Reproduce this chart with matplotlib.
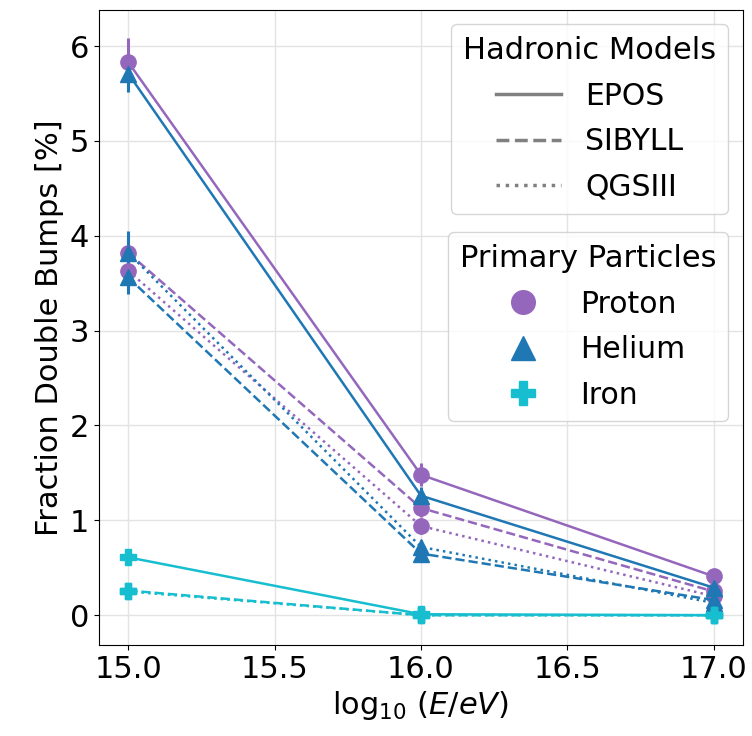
import matplotlib
matplotlib.use("Agg")
import matplotlib.pyplot as plt
from matplotlib.lines import Line2D

energies = [15.0, 16.0, 17.0]

# fraction of double bumps [%], per primary and hadronic model
proton_epos = [5.83, 1.48, 0.41]
proton_sibyll = [3.82, 1.13, 0.25]
proton_qgs = [3.63, 0.94, 0.20]
helium_epos = [5.71, 1.26, 0.29]
helium_sibyll = [3.56, 0.65, 0.16]
helium_qgs = [3.82, 0.72, 0.13]
iron_epos = [0.61, 0.01, 0.00]
iron_sibyll = [0.26, 0.00, 0.00]
iron_qgs = [0.25, 0.00, 0.00]

proton_epos_err = [0.25, 0.12, 0.05]
proton_sibyll_err = [0.20, 0.09, 0.04]
proton_qgs_err = [0.19, 0.08, 0.04]
helium_epos_err = [0.19, 0.09, 0.04]
helium_sibyll_err = [0.17, 0.06, 0.03]
helium_qgs_err = [0.23, 0.07, 0.03]
iron_epos_err = [0.06, 0.01, 0.01]
iron_sibyll_err = [0.04, 0.01, 0.01]
iron_qgs_err = [0.04, 0.01, 0.01]

models = ["EPOS", "SIBYLL", "QGSIII"]
styles = ["-", "--", ":"]
primaries = ["Proton", "Helium", "Iron"]
colors = ["#9467bd", "#1f77b4", "#17becf"]
markers = ["o", "^", "P"]

data = {
    "Proton": [(proton_epos, proton_epos_err), (proton_sibyll, proton_sibyll_err), (proton_qgs, proton_qgs_err)],
    "Helium": [(helium_epos, helium_epos_err), (helium_sibyll, helium_sibyll_err), (helium_qgs, helium_qgs_err)],
    "Iron": [(iron_epos, iron_epos_err), (iron_sibyll, iron_sibyll_err), (iron_qgs, iron_qgs_err)],
}

plt.rcParams["font.size"] = 22
fig, ax = plt.subplots(figsize=(7.52, 7.36), dpi=100)

for p, c, m in zip(primaries, colors, markers):
    for (vals, errs), ls in zip(data[p], styles):
        ax.errorbar(energies, vals, yerr=errs, color=c, marker=m, ls=ls,
                    markersize=11, lw=1.8, elinewidth=2.2)

ax.set_xticks([15.0, 15.5, 16.0, 16.5, 17.0])
ax.set_yticks(range(7))
ax.grid(True, color="#e3e3e3", lw=1)
ax.set_axisbelow(True)
ax.set_xlabel(r"$\log_{10}\,(E/eV)$", fontsize=22)
ax.set_ylabel("Fraction Double Bumps [%]", fontsize=22)
ax.tick_params(labelsize=22)

model_handles = [Line2D([], [], color="gray", ls=ls, lw=2.5) for ls in styles]
leg1 = ax.legend(model_handles, models, title="Hadronic Models", loc="upper right",
                 handlelength=2.2, fontsize=21.5, title_fontsize=22, labelspacing=0.55)
ax.add_artist(leg1)
prim_handles = [Line2D([], [], color=c, marker=m, ls="", markersize=17)
                for c, m in zip(colors, markers)]
ax.legend(prim_handles, primaries, title="Primary Particles", loc="upper right",
          bbox_to_anchor=(1.0, 0.673), handlelength=2.2, fontsize=21.5,
          title_fontsize=22, labelspacing=0.55)

fig.subplots_adjust(left=0.1316, right=0.988, top=0.987, bottom=0.1236)
fig.savefig("out.png", dpi=100)
